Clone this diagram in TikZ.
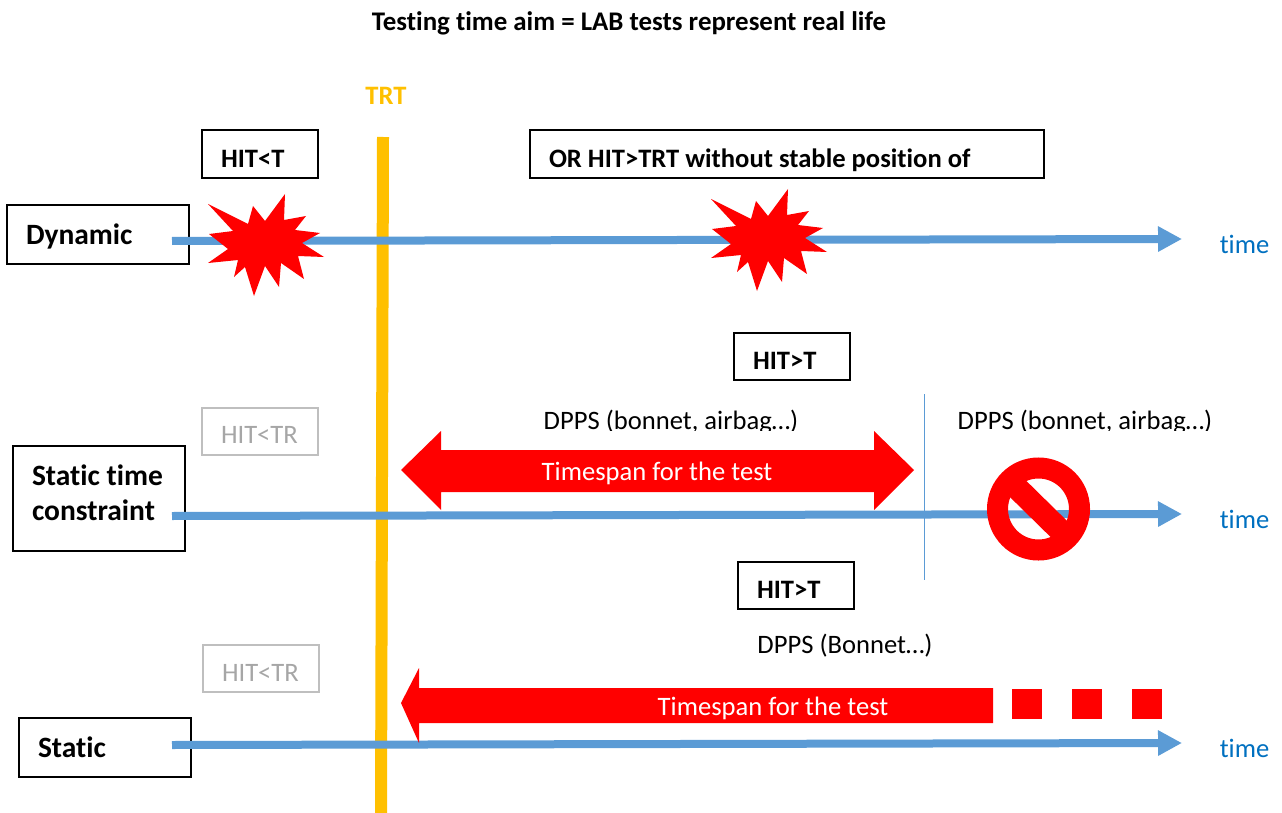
\documentclass[tikz,border=0pt]{standalone}
\usepackage{fontspec}
\setmainfont[RawFeature=-liga]{Carlito}
\usetikzlibrary{arrows.meta}
\definecolor{axisblue}{HTML}{5B9BD5}
\definecolor{timeblue}{HTML}{0070C0}
\definecolor{trtyellow}{HTML}{FFC000}
\definecolor{fadegray}{HTML}{A6A6A6}
\definecolor{fadeline}{HTML}{BFBFBF}
\tikzset{
  tagbox/.style={draw=black, line width=1.6pt, anchor=north west, align=flush left, inner ysep=0pt, outer sep=0pt,
    font=\fontsize{26.6}{32}\selectfont\bfseries},
  fadebox/.style={tagbox, draw=fadeline, text=fadegray, font=\fontsize{26.6}{32}\selectfont},
  axis/.style={draw=axisblue, line width=8pt, -{Triangle[length=24pt,width=24pt]}},
  timelabel/.style={text=timeblue, font=\fontsize{26.6}{32}\selectfont, inner sep=0pt},
  plainlabel/.style={font=\fontsize{26.6}{32}\selectfont, inner sep=0pt},
  spanlabel/.style={text=white, font=\fontsize{26.6}{32}\selectfont, inner sep=0pt},
  burst/.pic={
    \fill[red] (-56,-41)--(-16,-21)--(-11,-39)--(1,-24)--(21,-51)--(20,-25)--(42,-29)--(31,-15)
      --(56,-12)--(38,-2)--(60,12)--(34,11)--(40,34)--(17,18)--(15,42)--(1,21)--(-10,51)--(-19,22)
      --(-30,32)--(-26,15)--(-56,18)--(-36,4)--(-55,-11)--(-31,-14)--cycle;
  }
}
\begin{document}
\begin{tikzpicture}[x=1pt,y=-1pt]
  \useasboundingbox (0,0) rectangle (1282,813);
  \node[font=\fontsize{26.9}{32}\selectfont\bfseries, inner sep=0pt] (title) at (629,23) {Testing time aim = LAB tests represent real life};

  % yellow bar
  \node[text=trtyellow, font=\fontsize{26.6}{32}\selectfont\bfseries, inner sep=0pt] (trt) at (386,96) {TRT};
  \coordinate (trttop) at (383,137);
  \coordinate (trtbot) at (381,813);
  \draw[trtyellow, line width=12pt] (trttop) -- (trtbot);

  % boxes of the first row
  \node[tagbox, text width=78pt, inner xsep=19pt, minimum height=48pt, text height=27pt, text depth=0pt] (hitdyn) at (202,130) {HIT<T};
  \node[tagbox, text width=476pt, inner xsep=19pt, minimum height=48pt, text height=27pt, text depth=0pt] (hitor) at (530,130) {OR HIT>TRT without stable position of};
  \node[tagbox, text width=144pt, inner xsep=19pt, minimum height=59pt, text height=19pt, text depth=0pt, font=\fontsize{29.5}{35}\selectfont\bfseries] (dynamic) at (7,205) {Dynamic};

  % boxes of the second row
  \node[tagbox, text width=78pt, inner xsep=19pt, minimum height=47pt, text height=25pt, text depth=0pt] (hitlate) at (734,333) {HIT>T};
  \node[fadebox, text width=78pt, inner xsep=19pt, minimum height=47pt, text height=23pt, text depth=0pt] (hitfade) at (202,408) {HIT<TR};
  \node[tagbox, text width=134pt, inner xsep=19pt, minimum height=105pt, text depth=46pt, font=\fontsize{29.5}{35}\selectfont\bfseries] (statictime) at (13,446) {Static time\\constraint};

  % boxes of the third row
  \node[tagbox, text width=78pt, inner xsep=19pt, minimum height=47pt, text height=25pt, text depth=0pt] (hitlong) at (738,562) {HIT>T};
  \node[fadebox, text width=78pt, inner xsep=19pt, minimum height=47pt, text height=25pt, text depth=0pt] (hitpale) at (203,645) {HIT<TR};
  \node[tagbox, text width=134pt, inner xsep=19pt, minimum height=59pt, text height=19pt, text depth=0pt, font=\fontsize{29.5}{35}\selectfont\bfseries] (static) at (19,718) {Static};

  % time axes
  \coordinate (dynstart) at (172,241);
  \coordinate (dynend) at (1182,239);
  \draw[axis] (dynstart) -- (dynend);
  \coordinate (timestart) at (172,516);
  \coordinate (timeend) at (1182,514);
  \draw[axis] (timestart) -- (timeend);
  \coordinate (statstart) at (172,745);
  \coordinate (statend) at (1182,743);
  \draw[axis] (statstart) -- (statend);
  \node[timelabel] (timea) at (1244.5,244) {time};
  \node[timelabel] (timeb) at (1244.5,519) {time};
  \node[timelabel] (timec) at (1244.5,748) {time};

  % stars on the first axis
  \pic (burstleft) at (264,245) {burst};
  \pic (burstright) at (767,240) {burst};

  % double arrow of the second row
  \fill[red] (401,470)--(441,431)--(441,450)--(874,450)--(874,431)--(914,470)--(874,510)--(874,492)--(441,492)--(441,510)--cycle;
  \node[spanlabel] (spanmid) at (657,473) {Timespan for the test};
  \coordinate (limittop) at (924,394);
  \coordinate (limitbot) at (924,580);
  \draw[axisblue, line width=1pt] (limittop) -- (limitbot);

  % labels cut by their frame
  \begin{scope}
    \clip (500,400) rectangle (1260,430);
    \node[plainlabel] (dppsmid) at (671,422) {DPPS (bonnet, airbag…)};
    \node[plainlabel] (dppsend) at (1085,422) {DPPS (bonnet, airbag…)};
  \end{scope}

  % forbidden sign
  \draw[red, line width=21pt] (1038.5,509) circle (41);
  \draw[red, line width=23pt] (1009,480) -- (1068,538);

  % arrow of the third row
  \node[plainlabel] (dppslong) at (845,646) {DPPS (Bonnet…)};
  \fill[red] (401,703)--(419,668)--(419,688)--(993,688)--(993,723)--(419,723)--(419,743)--cycle;
  \node[spanlabel] (spanlong) at (773,708) {Timespan for the test};
  % routine for the squares
  \fill[red] (1012,689) rectangle (1042,719);
  \fill[red] (1072,689) rectangle (1102,719);
  \fill[red] (1132,689) rectangle (1162,719);
\end{tikzpicture}
\end{document}
